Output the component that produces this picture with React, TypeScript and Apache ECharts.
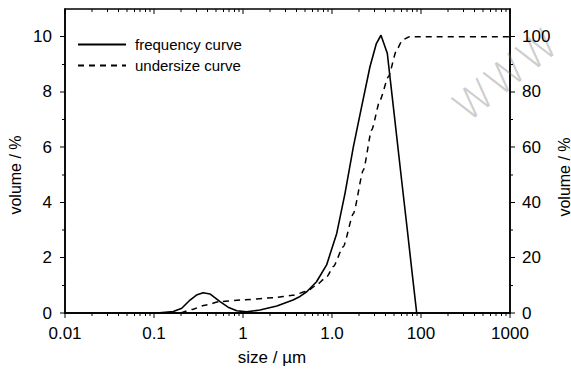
import React, { useEffect, useRef } from "react";
import * as echarts from "echarts";

// ---- data ----
const freqSize = [0.107, 0.165, 0.205, 0.254, 0.3, 0.357, 0.425, 0.552, 0.68, 0.85, 1.1, 1.55, 2.4, 3.65, 4.37, 5.2, 6.7, 8.7, 11.3, 14.0, 17.4, 21.5, 26.7, 31.5, 35.5, 41.8, 50, 60, 70, 80, 89.5];
const freqVol = [0, 0.05, 0.17, 0.47, 0.65, 0.73, 0.69, 0.41, 0.21, 0.08, 0.04, 0.11, 0.25, 0.47, 0.6, 0.77, 1.13, 1.74, 2.88, 4.33, 6.02, 7.46, 8.91, 9.75, 10.05, 9.4, 7.19, 4.92, 3.04, 1.37, 0];

const undSize = [0.2, 0.27, 0.36, 0.55, 0.93, 2.2, 3.6, 5.2, 6.5, 8.7, 10.35, 13.4, 17.4, 22.5, 27.9, 34.6, 43, 53.3, 62, 74, 1000];
const undVol = [0, 1.3, 2.7, 4.1, 4.7, 5.5, 6.4, 7.8, 9.8, 13, 16.8, 24, 36, 51.7, 66.2, 77, 85.5, 95.2, 98.8, 100, 100];

const xTickValues = [0.01, 0.1, 1, 10, 100, 1000];
const xTickLabels = ["0.01", "0.1", "1", "1.0", "100", "1000"];
const yLeftTicks = [0, 2, 4, 6, 8, 10];
const yRightTicks = [0, 20, 40, 60, 80, 100];
const yLeftMinor = [1, 3, 5, 7, 9];

const seriesNames = ["frequency curve", "undersize curve"];

const decades = [0.01, 0.1, 1, 10, 100];
const xMinor: number[] = [];
decades.forEach((d) => {
  for (let k = 2; k <= 9; k++) xMinor.push(+(d * k).toPrecision(3));
});

const TEXT_FONT = "'Liberation Sans', Arial, sans-serif";

const W = 571, H = 369;
const G = { left: 65, right: 61, top: 9, bottom: 56 };
const X_MIN = 0.01, X_MAX = 1000, Y_MAX = 11;

export default function App() {
  const ref = useRef<HTMLDivElement>(null);
  useEffect(() => {
    if (!ref.current) return;
    const chart = echarts.init(ref.current, null, { renderer: "svg" });
    const axisLine = () => ({ show: true, onZero: false, lineStyle: { color: "#000", width: 1.5 } });
    const tickLabel = { color: "#000", fontSize: 17, fontFamily: TEXT_FONT };

    const baseGraphic: any[] = [
      {
        type: "text",
        x: 506,
        y: 75,
        rotation: 0.67,
        style: {
          text: "WWW",
          fill: "#cdcdcd",
          font: "200 41px 'DejaVu Sans', sans-serif",
          align: "center",
          verticalAlign: "middle",
        },
      },
      {
        type: "text",
        x: 272,
        y: 357,
        style: { text: "size / µm", fill: "#000", font: "17px " + TEXT_FONT, align: "center", verticalAlign: "middle" },
      },
      {
        type: "text",
        x: 15,
        y: 175,
        rotation: Math.PI / 2,
        style: { text: "volume / %", fill: "#000", font: "16px " + TEXT_FONT, align: "center", verticalAlign: "middle" },
      },
      {
        type: "text",
        x: 564,
        y: 177,
        rotation: Math.PI / 2,
        style: { text: "volume / %", fill: "#000", font: "16px " + TEXT_FONT, align: "center", verticalAlign: "middle" },
      },
    ];

    const option: any = {
      animation: false,
      backgroundColor: "#fff",
      grid: { ...G, show: true, borderColor: "#000", borderWidth: 1.5, backgroundColor: "transparent" },
      legend: {
        data: seriesNames,
        orient: "vertical",
        left: 77,
        top: 37,
        padding: 0,
        itemWidth: 48,
        itemHeight: 14,
        itemGap: 6,
        itemStyle: { opacity: 0 },
        textStyle: { color: "#000", fontSize: 15, fontFamily: TEXT_FONT, padding: [0, 0, 0, 4] },
      },
      xAxis: [
        {
          type: "log",
          min: X_MIN,
          max: X_MAX,
          axisLine: axisLine(),
          axisTick: { show: false },
          axisLabel: {
            ...tickLabel,
            margin: 12,
            formatter: (v: number) => {
              const i = xTickValues.findIndex((t) => Math.abs(Math.log10(t) - Math.log10(v)) < 1e-6);
              return i >= 0 ? xTickLabels[i] : "";
            },
          },
          splitLine: { show: false },
        },
      ],
      yAxis: [
        {
          type: "value",
          min: 0,
          max: Y_MAX,
          interval: 2,
          axisLine: axisLine(),
          axisTick: { show: false },
          axisLabel: { ...tickLabel, margin: 13, formatter: (v: number) => (yLeftTicks.indexOf(v) >= 0 ? String(v) : "") },
          splitLine: { show: false },
        },
        {
          type: "value",
          min: 0,
          max: Y_MAX * 10,
          interval: 20,
          position: "right",
          axisLine: axisLine(),
          axisTick: { show: false },
          axisLabel: { ...tickLabel, margin: 12, formatter: (v: number) => (yRightTicks.indexOf(v) >= 0 ? String(v) : "") },
          splitLine: { show: false },
        },
      ],
      graphic: baseGraphic,
      series: [
        {
          name: seriesNames[0],
          type: "line",
          xAxisIndex: 0,
          yAxisIndex: 0,
          data: freqSize.map((s, i) => [s, freqVol[i]]),
          showSymbol: false,
          symbol: "none",
          smooth: false,
          lineStyle: { color: "#000", width: 1.6 },
          itemStyle: { color: "#000" },
        },
        {
          name: seriesNames[1],
          type: "line",
          xAxisIndex: 0,
          yAxisIndex: 1,
          data: undSize.map((s, i) => [s, undVol[i]]),
          showSymbol: false,
          symbol: "none",
          smooth: 0.2,
          smoothMonotone: "x",
          lineStyle: { color: "#000", width: 1.5, type: [6, 5] },
          itemStyle: { color: "#000" },
        },
      ],
    };
    chart.setOption(option);

    // positions from the chart's own scales (with a geometric fallback)
    const plotW = W - G.left - G.right, plotH = H - G.top - G.bottom;
    const px = (v: number) => {
      const r = Number(chart.convertToPixel({ xAxisIndex: 0 }, v));
      return isFinite(r) ? r : G.left + (Math.log10(v / X_MIN) / Math.log10(X_MAX / X_MIN)) * plotW;
    };
    const py = (v: number) => {
      const r = Number(chart.convertToPixel({ yAxisIndex: 0 }, v));
      return isFinite(r) ? r : G.top + plotH * (1 - v / Y_MAX);
    };
    const xL = px(X_MIN), xR = px(X_MAX), yB = py(0), yT = py(Y_MAX);
    const f = (n: number) => (Math.round(n * 2) / 2).toFixed(1);
    let d = "";
    const vtick = (v: number, len: number) => {
      const x = f(px(v));
      d += `M${x} ${f(yB)}L${x} ${f(yB + len)}`;
      d += `M${x} ${f(yT)}L${x} ${f(yT + len)}`;
    };
    const htick = (v: number, len: number) => {
      const y = f(py(v));
      d += `M${f(xL - len)} ${y}L${f(xL)} ${y}`;
      d += `M${f(xR)} ${y}L${f(xR + len)} ${y}`;
    };
    xTickValues.forEach((v) => vtick(v, 5));
    xMinor.forEach((v) => vtick(v, 3));
    yLeftTicks.forEach((v) => htick(v, 5));
    yLeftMinor.forEach((v) => htick(v, 3));
    // a long closing stroke along the frame keeps the shape's box large
    d += `M${f(xL)} ${f(yB)}L${f(xR)} ${f(yB)}`;

    echarts.graphic.registerShape("axisTicks", echarts.graphic.extendPath(d, {}) as any);
    chart.setOption({
      graphic: [
        ...baseGraphic,
        {
          type: "axisTicks",
          x: 0,
          y: 0,
          z: 100,
          style: { stroke: "#000", lineWidth: 1, fill: "none" },
        },
      ],
    });
    return () => chart.dispose();
  }, []);
  return <div ref={ref} style={{ position: "fixed", left: 0, top: 0, width: W, height: H, background: "#fff" }} />;
}
